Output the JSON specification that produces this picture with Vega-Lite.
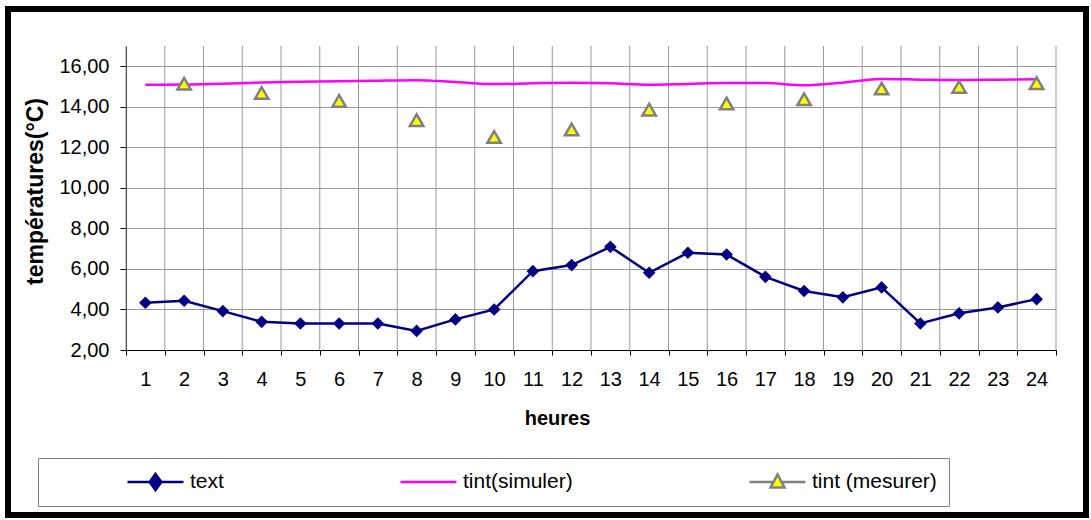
{
  "$schema": "https://vega.github.io/schema/vega-lite/v6.json",
  "width": 1078,
  "height": 506,
  "autosize": {"type": "none"},
  "padding": {"left": 8, "top": 9, "right": 5, "bottom": 5},
  "background": "white",
  "config": {
    "locale": {"number": {"decimal": ",", "thousands": " ", "grouping": [3], "currency": ["", " €"]}},
    "font": "Liberation Sans",
    "view": {"stroke": "black", "strokeWidth": 6},
    "axis": {"labelFont": "Liberation Sans", "titleFont": "Liberation Sans", "labelColor": "black", "titleColor": "black", "domainColor": "black", "tickColor": "black", "gridColor": "#999999", "gridWidth": 1, "domainWidth": 1},
    "legend": {
      "orient": "none", "legendX": 30, "legendY": 449, "direction": "horizontal",
      "padding": 12, "strokeColor": "#808080", "fillColor": "white", "clipHeight": 24,
      "symbolOffset": 76, "labelOffset": 5, "columnPadding": 99,
      "labelFontSize": 21, "labelFont": "Liberation Sans", "labelColor": "black", "labelLimit": 500,
      "symbolSize": 3136, "symbolOpacity": 1, "symbolStrokeWidth": 2.5
    }
  },
  "data": {
    "values": [
      {"heure": 1, "serie": "text", "valeur": 4.33},
      {"heure": 2, "serie": "text", "valeur": 4.43},
      {"heure": 3, "serie": "text", "valeur": 3.92},
      {"heure": 4, "serie": "text", "valeur": 3.39},
      {"heure": 5, "serie": "text", "valeur": 3.31},
      {"heure": 6, "serie": "text", "valeur": 3.31},
      {"heure": 7, "serie": "text", "valeur": 3.31},
      {"heure": 8, "serie": "text", "valeur": 2.94},
      {"heure": 9, "serie": "text", "valeur": 3.51},
      {"heure": 10, "serie": "text", "valeur": 4.0},
      {"heure": 11, "serie": "text", "valeur": 5.89},
      {"heure": 12, "serie": "text", "valeur": 6.19},
      {"heure": 13, "serie": "text", "valeur": 7.09},
      {"heure": 14, "serie": "text", "valeur": 5.81},
      {"heure": 15, "serie": "text", "valeur": 6.8},
      {"heure": 16, "serie": "text", "valeur": 6.71},
      {"heure": 17, "serie": "text", "valeur": 5.61},
      {"heure": 18, "serie": "text", "valeur": 4.91},
      {"heure": 19, "serie": "text", "valeur": 4.6},
      {"heure": 20, "serie": "text", "valeur": 5.09},
      {"heure": 21, "serie": "text", "valeur": 3.31},
      {"heure": 22, "serie": "text", "valeur": 3.81},
      {"heure": 23, "serie": "text", "valeur": 4.1},
      {"heure": 24, "serie": "text", "valeur": 4.51},
      {"heure": 1, "serie": "tint(simuler)", "valeur": 15.09},
      {"heure": 2, "serie": "tint(simuler)", "valeur": 15.1},
      {"heure": 3, "serie": "tint(simuler)", "valeur": 15.14},
      {"heure": 4, "serie": "tint(simuler)", "valeur": 15.2},
      {"heure": 5, "serie": "tint(simuler)", "valeur": 15.23},
      {"heure": 6, "serie": "tint(simuler)", "valeur": 15.26},
      {"heure": 7, "serie": "tint(simuler)", "valeur": 15.29},
      {"heure": 8, "serie": "tint(simuler)", "valeur": 15.31},
      {"heure": 9, "serie": "tint(simuler)", "valeur": 15.22},
      {"heure": 10, "serie": "tint(simuler)", "valeur": 15.12},
      {"heure": 11, "serie": "tint(simuler)", "valeur": 15.16},
      {"heure": 12, "serie": "tint(simuler)", "valeur": 15.19},
      {"heure": 13, "serie": "tint(simuler)", "valeur": 15.16},
      {"heure": 14, "serie": "tint(simuler)", "valeur": 15.09},
      {"heure": 15, "serie": "tint(simuler)", "valeur": 15.13},
      {"heure": 16, "serie": "tint(simuler)", "valeur": 15.17},
      {"heure": 17, "serie": "tint(simuler)", "valeur": 15.17},
      {"heure": 18, "serie": "tint(simuler)", "valeur": 15.06},
      {"heure": 19, "serie": "tint(simuler)", "valeur": 15.19},
      {"heure": 20, "serie": "tint(simuler)", "valeur": 15.37},
      {"heure": 21, "serie": "tint(simuler)", "valeur": 15.34},
      {"heure": 22, "serie": "tint(simuler)", "valeur": 15.32},
      {"heure": 23, "serie": "tint(simuler)", "valeur": 15.34},
      {"heure": 24, "serie": "tint(simuler)", "valeur": 15.36},
      {"heure": 2, "serie": "tint (mesurer)", "valeur": 15.14},
      {"heure": 4, "serie": "tint (mesurer)", "valeur": 14.68},
      {"heure": 6, "serie": "tint (mesurer)", "valeur": 14.29},
      {"heure": 8, "serie": "tint (mesurer)", "valeur": 13.34},
      {"heure": 10, "serie": "tint (mesurer)", "valeur": 12.51},
      {"heure": 12, "serie": "tint (mesurer)", "valeur": 12.88},
      {"heure": 14, "serie": "tint (mesurer)", "valeur": 13.86},
      {"heure": 16, "serie": "tint (mesurer)", "valeur": 14.16},
      {"heure": 18, "serie": "tint (mesurer)", "valeur": 14.37},
      {"heure": 20, "serie": "tint (mesurer)", "valeur": 14.9},
      {"heure": 22, "serie": "tint (mesurer)", "valeur": 14.98},
      {"heure": 24, "serie": "tint (mesurer)", "valeur": 15.17}
    ]
  },
  "layer": [
    {
      "transform": [{"filter": "datum.serie === 'text'"}],
      "mark": {"type": "rule", "color": "#999999", "strokeWidth": 1},
      "encoding": {
        "x": {
          "field": "heure", "type": "ordinal", "bandPosition": 0,
          "scale": {"range": [118, 1048], "paddingInner": 0, "paddingOuter": 0},
          "axis": {
            "title": "heures", "offset": -165, "tickBand": "extent", "labelAngle": 0,
            "labelFontSize": 20, "labelBaseline": "alphabetic", "labelPadding": 30, "tickSize": 5,
            "grid": false, "titleFontSize": 20, "titleFontWeight": "bold",
            "titleX": 549, "titleY": 74, "titleBaseline": "alphabetic", "titleAnchor": null
          }
        },
        "y": {"datum": 2, "type": "quantitative"},
        "y2": {"datum": 17}
      }
    },
    {
      "transform": [{"filter": "datum.serie === 'text' && datum.heure === 24"}],
      "mark": {"type": "rule", "color": "#999999", "strokeWidth": 1},
      "encoding": {
        "x": {"field": "heure", "type": "ordinal", "bandPosition": 1},
        "y": {"datum": 2, "type": "quantitative"},
        "y2": {"datum": 17}
      }
    },
    {
      "transform": [{"filter": "datum.serie === 'text'"}],
      "mark": {"type": "line", "color": "#000080", "strokeWidth": 2.5},
      "encoding": {
        "x": {"field": "heure", "type": "ordinal"},
        "y": {
          "field": "valeur", "type": "quantitative",
          "scale": {"domain": [2, 17], "range": [341, 37], "nice": false, "zero": false},
          "axis": {
            "title": "températures(°C)", "offset": -118, "values": [2, 4, 6, 8, 10, 12, 14, 16],
            "format": ".2f", "labelFontSize": 20, "tickSize": 6, "labelPadding": 11, "grid": true,
            "titleFontSize": 23, "titleFontWeight": "bold", "titleX": -91, "titleY": 182, "titleBaseline": "middle", "titleAngle": 270
          }
        }
      }
    },
    {
      "transform": [{"filter": "datum.serie === 'tint(simuler)'"}],
      "mark": {"type": "line", "color": "#FF00FF", "strokeWidth": 2.5, "interpolate": "monotone"},
      "encoding": {
        "x": {"field": "heure", "type": "ordinal"},
        "y": {"field": "valeur", "type": "quantitative"}
      }
    },
    {
      "transform": [{"filter": "datum.serie === 'text'"}],
      "mark": {"type": "point", "shape": "diamond", "filled": true, "color": "#000080", "size": 160, "opacity": 1},
      "encoding": {
        "x": {"field": "heure", "type": "ordinal"},
        "y": {"field": "valeur", "type": "quantitative"}
      }
    },
    {
      "transform": [{"filter": "datum.serie === 'tint (mesurer)'"}],
      "mark": {"type": "point", "shape": "triangle-up", "filled": true, "fill": "#FFFF00", "stroke": "#808080", "size": 180, "strokeWidth": 2.5, "opacity": 1},
      "encoding": {
        "x": {"field": "heure", "type": "ordinal"},
        "y": {"field": "valeur", "type": "quantitative"}
      }
    },
    {
      "mark": {"type": "point", "filled": true, "size": 3136, "strokeWidth": 2.5, "opacity": 0},
      "encoding": {
        "x": {"field": "heure", "type": "ordinal"},
        "y": {"field": "valeur", "type": "quantitative"},
        "fill": {
          "field": "serie", "type": "nominal",
          "scale": {"domain": ["text", "tint(simuler)", "tint (mesurer)"], "range": ["#000080", "transparent", "#FFFF00"]},
          "legend": {
            "title": null, "symbolOpacity": 1,
            "labelExpr": "datum.label === 'tint (mesurer)' ? datum.label + '\u00a0\u00a0\u00a0\u00a0\u00a0\u00a0\u00a0\u00a0\u00a0\u00a0\u00a0\u00a0\u00a0\u00a0\u00a0\u00a0' : datum.label"
          }
        },
        "stroke": {
          "field": "serie", "type": "nominal",
          "scale": {"domain": ["text", "tint(simuler)", "tint (mesurer)"], "range": ["#000080", "#FF00FF", "#808080"]},
          "legend": {
            "title": null, "symbolOpacity": 1,
            "labelExpr": "datum.label === 'tint (mesurer)' ? datum.label + '\u00a0\u00a0\u00a0\u00a0\u00a0\u00a0\u00a0\u00a0\u00a0\u00a0\u00a0\u00a0\u00a0\u00a0\u00a0\u00a0' : datum.label"
          }
        },
        "shape": {
          "field": "serie", "type": "nominal",
          "scale": {"domain": ["text", "tint(simuler)", "tint (mesurer)"], "range": ["M-1,0H1M0,-0.29L0.21,0L0,0.29L-0.21,0Z", "M-1,0H1", "M-1,0H-0.17M0.17,0H1M0,-0.27L0.25,0.2L-0.25,0.2Z"]},
          "legend": {
            "title": null, "symbolOpacity": 1,
            "labelExpr": "datum.label === 'tint (mesurer)' ? datum.label + '\u00a0\u00a0\u00a0\u00a0\u00a0\u00a0\u00a0\u00a0\u00a0\u00a0\u00a0\u00a0\u00a0\u00a0\u00a0\u00a0' : datum.label"
          }
        }
      }
    }
  ]
}
